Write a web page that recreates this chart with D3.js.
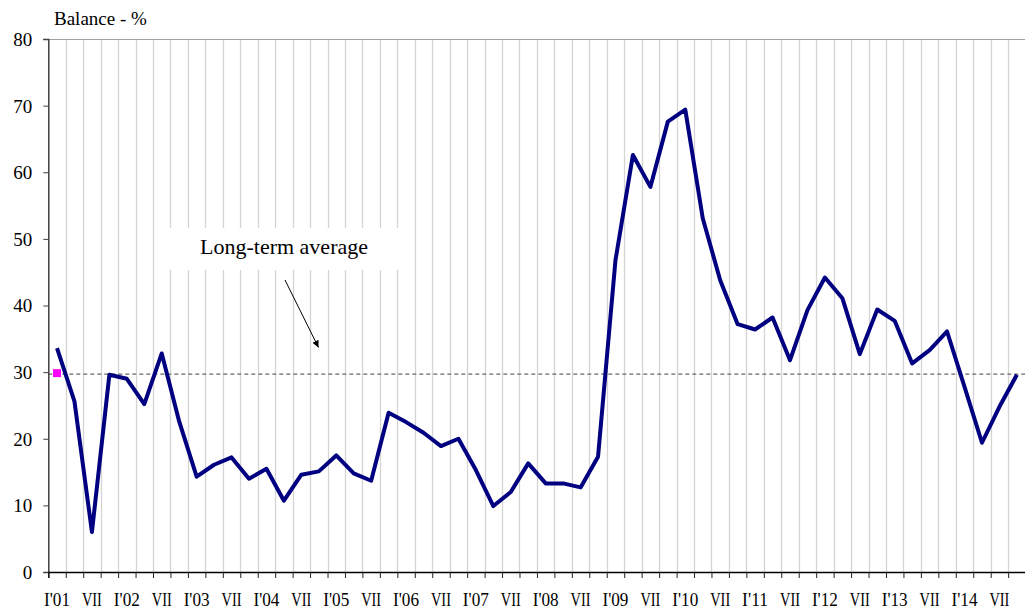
<!DOCTYPE html>
<html>
<head>
<meta charset="utf-8">
<script src="https://cdn.jsdelivr.net/npm/d3@7"></script>
<style>
  body { margin: 0; background: #fff; }
  svg text { font-family: "Liberation Serif", "Times New Roman", serif; fill: #000; }
</style>
</head>
<body>
<div id="chart"></div>
<script>
// quarterly balance, I'01 .. IV'14
var balance = [33.6, 25.6, 6.0, 29.6, 29.0, 25.2, 32.8, 22.6,
	14.3, 16.1, 17.2, 14.0, 15.5, 10.7, 14.6, 15.1,
	17.5, 14.8, 13.7, 23.9, 22.5, 20.9, 18.9, 20.0,
	15.3, 9.9, 12.0, 16.3, 13.3, 13.3, 12.7, 17.3,
	46.8, 62.6, 57.8, 67.6, 69.4, 53.1, 43.8, 37.2,
	36.4, 38.2, 31.8, 39.3, 44.2, 41.1, 32.7, 39.4,
	37.7, 31.3, 33.3, 36.1, 27.8, 19.4, 24.8, 29.6];

var longTermAverage = 29.7;

// one label every second quarter
var xLabels = ["I'01", "VII", "I'02", "VII", "I'03", "VII", "I'04", "VII",
	"I'05", "VII", "I'06", "VII", "I'07", "VII", "I'08", "VII",
	"I'09", "VII", "I'10", "VII", "I'11", "VII", "I'12", "VII",
	"I'13", "VII", "I'14", "VII"];

var yTicks = [0, 10, 20, 30, 40, 50, 60, 70, 80];

var width = 1025,
	height = 609,
	LEFT = 48.3,
	RIGHT = 1025.6,
	TOP = 39,
	BOTTOM = 572,
	FONT = "'Liberation Serif', 'Times New Roman', serif",
	LINE_COLOR = "#000080",
	GRID_COLOR = "#d4d4d4";

var svg = d3.select("#chart").append("svg")
	.attr("width", width)
	.attr("height", height)
	.attr("font-family", FONT);

var x = d3.scaleBand()
	.domain(d3.range(balance.length))
	.range([LEFT, RIGHT]);

// category boundaries, used for gridlines and ticks
var xEdge = d3.scaleLinear()
	.domain([0, balance.length])
	.range([LEFT, RIGHT]);

var y = d3.scaleLinear()
	.domain([0, 80])
	.range([BOTTOM, TOP]);

var cx = function(i) { return x(i) + x.bandwidth() / 2; };

// vertical gridlines
svg.append("g").selectAll("line")
	.data(d3.range(1, balance.length + 1))
	.enter()
	.append("line")
	.attr("x1", function(d) { return Math.round(xEdge(d)) + 0.5; })
	.attr("x2", function(d) { return Math.round(xEdge(d)) + 0.5; })
	.attr("y1", y(80))
	.attr("y2", y(0))
	.style("stroke", GRID_COLOR)
	.style("stroke-width", 1.3);

// top border
svg.append("line")
	.attr("x1", LEFT).attr("x2", width)
	.attr("y1", y(80) + 0.5).attr("y2", y(80) + 0.5)
	.style("stroke", "#a0a0a0")
	.style("stroke-width", 1.2);

// white box behind the annotation
svg.append("rect")
	.attr("x", 168).attr("y", 228)
	.attr("width", 236).attr("height", 42)
	.style("fill", "#fff");

// long-term average
svg.append("line")
	.attr("x1", LEFT).attr("x2", width)
	.attr("y1", y(longTermAverage)).attr("y2", y(longTermAverage))
	.style("stroke", "#666")
	.style("stroke-width", 1.3)
	.style("stroke-dasharray", "4,3");

// y axis
var yAxis = svg.append("g")
	.attr("transform", "translate(" + LEFT + ",0)")
	.call(d3.axisLeft(y).tickValues(yTicks).tickSize(5).tickPadding(11).tickFormat(d3.format("d")));
yAxis.attr("font-family", FONT).attr("font-size", 19);
yAxis.select(".domain").style("stroke", "#404040").style("stroke-width", 1.5);
yAxis.selectAll(".tick line").style("stroke", "#404040");
yAxis.selectAll("text").attr("dy", "0.34em");

// x axis ticks at category boundaries
var xAxis = svg.append("g")
	.attr("transform", "translate(0," + BOTTOM + ")")
	.call(d3.axisBottom(xEdge).tickValues(d3.range(0, balance.length + 1)).tickSize(6).tickFormat(""));
xAxis.select(".domain").style("stroke", "#000").style("stroke-width", 1.4);
xAxis.selectAll(".tick line").style("stroke", "#222");

// x labels at every second quarter (squeezed like the original)
svg.append("g").selectAll("text")
	.data(xLabels)
	.enter()
	.append("text")
	.attr("x", function(d, i) { return cx(i * 2); })
	.attr("y", 606)
	.attr("textLength", function(d) { return d === "VII" ? 20 : 26; })
	.attr("lengthAdjust", "spacingAndGlyphs")
	.style("font-size", "19px")
	.style("text-anchor", "middle")
	.text(function(d) { return d; });

// the series
var line = d3.line()
	.x(function(d, i) { return cx(i); })
	.y(function(d) { return y(d); });

svg.append("path")
	.datum(balance)
	.attr("d", line)
	.style("fill", "none")
	.style("stroke", LINE_COLOR)
	.style("stroke-width", 4)
	.style("stroke-linejoin", "round");

// marker of the average series
svg.append("rect")
	.attr("x", cx(0) - 4)
	.attr("y", y(longTermAverage) - 5)
	.attr("width", 8)
	.attr("height", 8)
	.style("fill", "#ff00ff");

// title
svg.append("text")
	.attr("x", 54)
	.attr("y", 25)
	.style("font-size", "19px")
	.text("Balance - %");

// annotation
svg.append("text")
	.attr("x", 284)
	.attr("y", 254)
	.style("font-size", "22px")
	.style("text-anchor", "middle")
	.text("Long-term average");

svg.append("defs").append("marker")
	.attr("id", "arrow")
	.attr("viewBox", "0 0 10 10")
	.attr("refX", 10).attr("refY", 5)
	.attr("markerWidth", 7).attr("markerHeight", 7)
	.attr("markerUnits", "userSpaceOnUse")
	.attr("orient", "auto")
	.append("path")
	.attr("d", "M0,0L10,5L0,10Z")
	.style("fill", "#000");

svg.append("line")
	.attr("x1", 285).attr("y1", 280)
	.attr("x2", 318.5).attr("y2", 347.5)
	.style("stroke", "#000")
	.style("stroke-width", 1)
	.attr("marker-end", "url(#arrow)");
</script>
</body>
</html>
